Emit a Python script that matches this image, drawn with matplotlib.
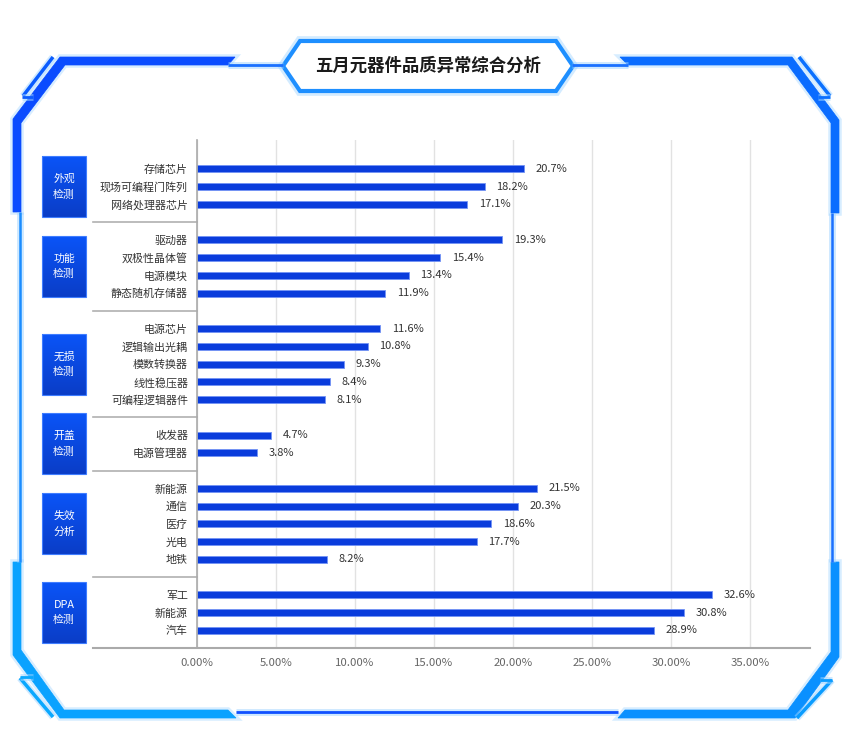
import matplotlib
matplotlib.use("Agg")
import matplotlib.pyplot as plt
import matplotlib.patheffects as pe
from matplotlib.patches import Polygon
import numpy as np

plt.rcParams['font.family'] = ['Noto Sans CJK SC', 'DejaVu Sans']

title = "五月元器件品质异常综合分析"
groups = ["外观\n检测", "功能\n检测", "无损\n检测", "开盖\n检测", "失效\n分析", "DPA\n检测"]
items = [
    ["存储芯片", "现场可编程门阵列", "网络处理器芯片"],
    ["驱动器", "双极性晶体管", "电源模块", "静态随机存储器"],
    ["电源芯片", "逻辑输出光耦", "模数转换器", "线性稳压器", "可编程逻辑器件"],
    ["收发器", "电源管理器"],
    ["新能源", "通信", "医疗", "光电", "地铁"],
    ["军工", "新能源", "汽车"],
]
values = [
    [20.7, 18.2, 17.1],
    [19.3, 15.4, 13.4, 11.9],
    [11.6, 10.8, 9.3, 8.4, 8.1],
    [4.7, 3.8],
    [21.5, 20.3, 18.6, 17.7, 8.2],
    [32.6, 30.8, 28.9],
]
xticks = [0, 5, 10, 15, 20, 25, 30, 35]

W, H = 852, 744
fig = plt.figure(figsize=(W / 100, H / 100), dpi=100)

# background decoration layer in pixel coords
bg = fig.add_axes([0, 0, 1, 1], zorder=0)
bg.set_axis_off()

glow = [pe.withStroke(linewidth=5, foreground='#9fd4ff', alpha=0.5)]

def shape(pts, color):
    p = Polygon(pts, closed=True, facecolor=color, edgecolor=color, linewidth=0.5)
    p.set_path_effects([pe.Stroke(linewidth=4, foreground='#a8d8ff', alpha=0.45), pe.Normal()])
    bg.add_patch(p)

def line(xs, ys, color, lw):
    bg.plot(xs, ys, color=color, lw=lw, solid_capstyle='butt', path_effects=glow)

# frame corners
shape([(60, 57), (235, 57), (228, 65), (65, 65), (21, 123), (21, 212), (13, 212), (13, 119)], '#0a4cff')
shape([(620, 57), (792, 57), (839, 120), (839, 213), (831, 213), (831, 123), (788, 65), (628, 65)], '#0a6cff')
shape([(13, 562), (21, 562), (21, 650), (64, 710), (228, 710), (236, 718), (60, 718), (13, 655)], '#0aa2ff')
shape([(625, 710), (788, 710), (831, 652), (831, 562), (839, 562), (839, 657), (795, 718), (618, 718)], '#0a90ff')

# thin connecting lines
line([228, 283], [64.5, 64.5], '#1a70ff', 2)
line([572, 628], [64.5, 64.5], '#1a70ff', 2)
line([236, 618], [712, 712], '#1050ff', 2)
line([19.5, 19.5], [212, 562], '#1a8cff', 1.8)
line([832, 832], [213, 562], '#1a70ff', 1.8)

# double diagonals near corners
line([53, 23], [57, 96], '#0a5cff', 2.5)
line([22, 33], [97, 97], '#0a5cff', 2)
line([799, 830], [57, 96], '#0a70ff', 2.5)
line([818, 830], [97, 97], '#0a70ff', 2)
line([20, 53], [678, 717], '#0aa8ff', 2.5)
line([20, 33], [677, 677], '#0aa8ff', 2)
line([797, 832], [718, 680], '#0a9cff', 2.5)
line([820, 832], [680, 680], '#0a9cff', 2)

# title hexagon
hexa = Polygon([(283, 66), (300, 41), (556, 41), (573, 66), (556, 91), (300, 91)], closed=True,
               facecolor='white', edgecolor='#1e8fff', linewidth=3)
hexa.set_path_effects([pe.Stroke(linewidth=7, foreground='#a8d8ff', alpha=0.5), pe.Normal()])
bg.add_patch(hexa)
bg.text(428, 66, title, ha='center', va='center', fontsize=12.5, fontweight='bold', color='#1a1a1a')

# chart axes
ax = fig.add_axes([197 / W, 1 - 648 / H, (810 - 197) / W, (648 - 140) / H], zorder=2)
ax.set_facecolor('none')

pos = []
labels = []
vals = []
centers = []
seps = []
i = 0
for g in range(len(groups)):
    start = i
    for name, v in zip(items[g], values[g]):
        pos.append(i)
        labels.append(name)
        vals.append(v)
        i += 1
    centers.append((start + i - 1) / 2)
    seps.append(i)
    i += 1

ax.barh(pos, vals, height=0.4, color='#0a3cdc', edgecolor='#7393f5', linewidth=0.6, zorder=3)
for p, v in zip(pos, vals):
    ax.annotate(f"{v}%", (v, p), xytext=(8.5, 0), textcoords='offset points',
                ha='left', va='center', fontsize=8, color='#333333')

ax.set_xlim(0, (810 - 197) / 15.8)
ax.set_ylim(seps[-1], -1.63)
ax.set_xticks(xticks)
ax.set_xticklabels([f"{t:.2f}%" for t in xticks])
ax.set_yticks(pos)
ax.set_yticklabels(labels)
ax.tick_params(axis='x', length=0, pad=7.5, labelsize=8.2, labelcolor='#666666')
ax.tick_params(axis='y', length=0, pad=6.5, labelsize=7.9, labelcolor='#333333')
ax.xaxis.grid(True, color='#e2e2e2', linewidth=1)
ax.set_axisbelow(True)
for s in ['top', 'right', 'bottom']:
    ax.spines[s].set_visible(False)
ax.spines['left'].set_color('#aaaaaa')
ax.spines['left'].set_linewidth(1.2)
ax.spines['left'].set_zorder(4)

left_ext = -(197 - 93) / (810 - 197)
for s in seps[:-1]:
    ax.axhline(s, xmin=left_ext, xmax=0, color='#b0b0b0', lw=1.2, clip_on=False)
ax.axhline(seps[-1], xmin=left_ext, xmax=1, color='#aaaaaa', lw=1.5, clip_on=False)

# group boxes
grad = np.linspace(0, 1, 64).reshape(-1, 1)
top_c = np.array([0.04, 0.33, 0.97])
bot_c = np.array([0.04, 0.24, 0.78])
img = top_c + (bot_c - top_c) * grad[..., None]
img = img.reshape(64, 1, 3)
for c, name in zip(centers, groups):
    yc = H - ax.transData.transform((0, c))[1]
    bg.imshow(img, extent=[42, 86, yc + 30.5, yc - 30.5], aspect='auto', zorder=2)
    bg.add_patch(Polygon([(42, yc - 30.5), (86, yc - 30.5), (86, yc + 30.5), (42, yc + 30.5)],
                         closed=True, fill=False, edgecolor='#3f7dff', lw=0.8, zorder=3))
    bg.text(64, yc, name, ha='center', va='center', fontsize=7.8, color='white',
            linespacing=1.7, zorder=4)

bg.set_xlim(0, W)
bg.set_ylim(H, 0)

fig.savefig("out.png", dpi=100)
